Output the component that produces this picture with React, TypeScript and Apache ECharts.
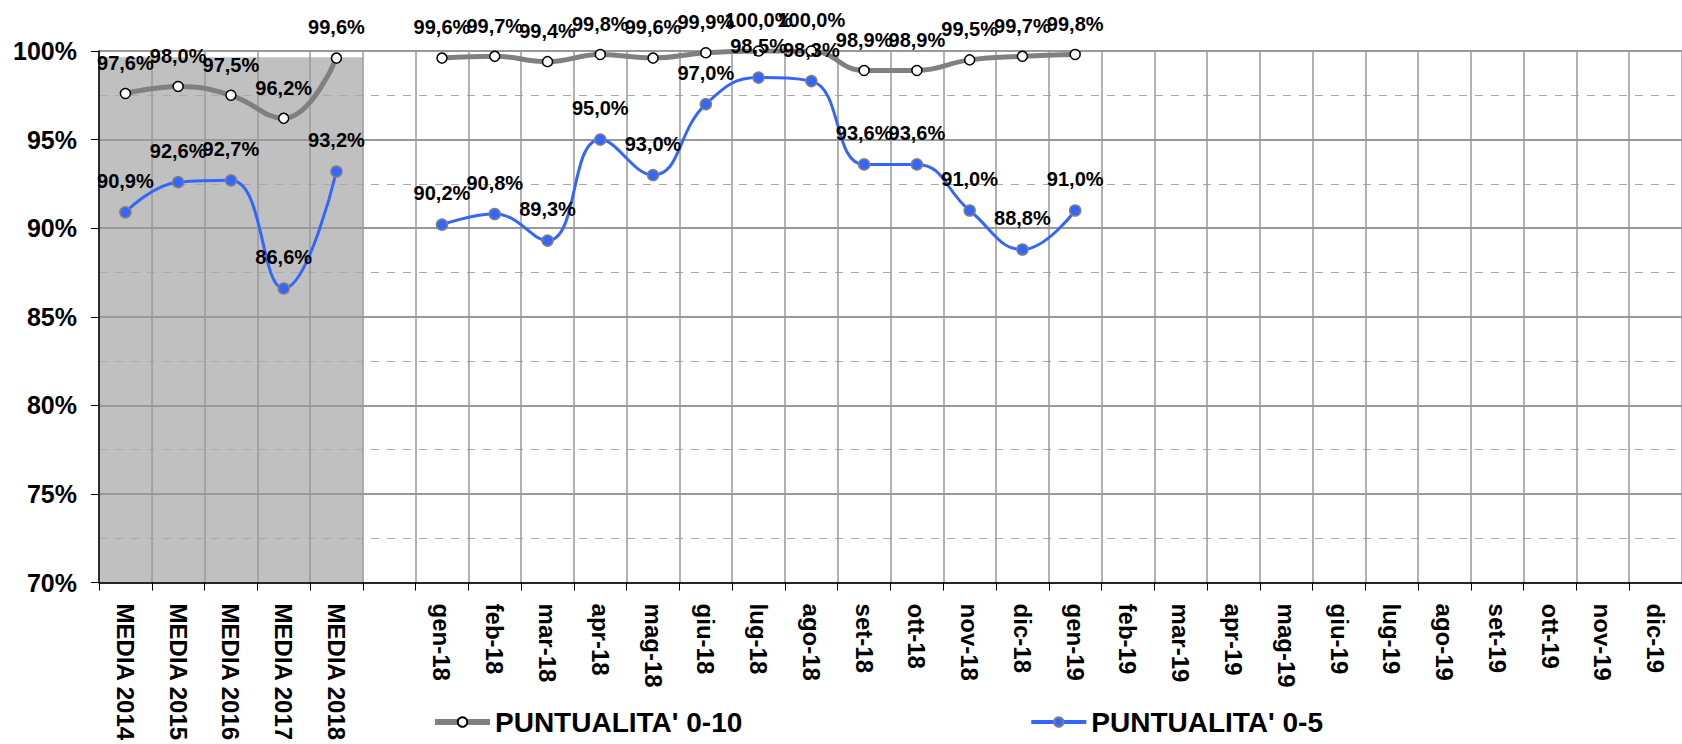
import React, { useEffect, useRef } from "react";
import * as echarts from "echarts";

const categories = [
  "MEDIA 2014", "MEDIA 2015", "MEDIA 2016", "MEDIA 2017", "MEDIA 2018", "",
  "gen-18", "feb-18", "mar-18", "apr-18", "mag-18", "giu-18", "lug-18", "ago-18", "set-18", "ott-18", "nov-18", "dic-18",
  "gen-19", "feb-19", "mar-19", "apr-19", "mag-19", "giu-19", "lug-19", "ago-19", "set-19", "ott-19", "nov-19", "dic-19",
];

const puntualita010 = [
  97.6, 98.0, 97.5, 96.2, 99.6, null,
  99.6, 99.7, 99.4, 99.8, 99.6, 99.9, 100.0, 100.0, 98.9, 98.9, 99.5, 99.7,
  99.8, null, null, null, null, null, null, null, null, null, null, null,
];

const puntualita05 = [
  90.9, 92.6, 92.7, 86.6, 93.2, null,
  90.2, 90.8, 89.3, 95.0, 93.0, 97.0, 98.5, 98.3, 93.6, 93.6, 91.0, 88.8,
  91.0, null, null, null, null, null, null, null, null, null, null, null,
];

const mediaShade = [99.65, 99.65, 99.65, 99.65, 99.65];

const seriesNames = ["PUNTUALITA' 0-10", "PUNTUALITA' 0-5"];

const FONT = "Liberation Sans, Arial, sans-serif";

const fmt = (v: number) => v.toFixed(1).replace(".", ",") + "%";

export default function App() {
  const ref = useRef<HTMLDivElement>(null);
  useEffect(() => {
    document.body.style.margin = "0";
    const chart = echarts.init(ref.current!, undefined, { renderer: "svg" });
    chart.setOption({
      animation: false,
      backgroundColor: "#ffffff",
      grid: { left: 99, right: -17, top: 51, bottom: 157, containLabel: false },
      legend: {
        data: [
          { name: seriesNames[0], lineStyle: { width: 6, color: "#808080" } },
          { name: seriesNames[1], lineStyle: { width: 4, color: "#3366ff" } },
        ],
        left: 427,
        top: 703,
        itemWidth: 55,
        itemHeight: 12,
        itemGap: 287,
        textStyle: { fontFamily: FONT, fontWeight: "bold", fontSize: 28, color: "#000" },
      },
      xAxis: {
        type: "category",
        data: categories,
        boundaryGap: true,
        z: 3,
        axisLine: { show: true, lineStyle: { color: "#000", width: 1.5 } },
        axisTick: { show: true, length: 8, alignWithLabel: false, interval: 0, lineStyle: { color: "#000" } },
        axisLabel: {
          interval: 0,
          rotate: -90,
          margin: 21,
          fontFamily: FONT,
          fontWeight: "bold",
          fontSize: 24,
          color: "#000",
        },
        splitLine: { show: true, interval: 0, lineStyle: { color: "#999", width: 1.5 } },
      },
      yAxis: {
        type: "value",
        min: 70,
        max: 100,
        interval: 5,
        z: 3,
        axisLine: { show: true, lineStyle: { color: "#000", width: 1.5 } },
        axisTick: { show: true, length: 8, lineStyle: { color: "#000" } },
        axisLabel: {
          formatter: (v: number) => v + "%",
          margin: 22,
          fontFamily: FONT,
          fontWeight: "bold",
          fontSize: 25,
          color: "#000",
        },
        splitLine: { show: true, lineStyle: { color: "#999", width: 2 } },
        minorTick: { show: false, splitNumber: 2 },
        minorSplitLine: { show: true, lineStyle: { color: "#aaa", width: 1, type: [8, 8] } },
      },
      series: [
        {
          name: "shade",
          type: "bar",
          data: mediaShade,
          barWidth: "100%",
          barCategoryGap: 0,
          itemStyle: { color: "#c0c0c0" },
          silent: true,
          z: 1,
        },
        {
          name: seriesNames[0],
          type: "line",
          data: puntualita010,
          smooth: 0.45,
          z: 5,
          lineStyle: { color: "#808080", width: 5 },
          itemStyle: { color: "#ffffff", borderColor: "#000", borderWidth: 1.5 },
          symbol: "circle",
          symbolSize: 10,
          showAllSymbol: true,
          label: {
            show: true,
            position: "top",
            distance: 15,
            formatter: (p: any) => fmt(p.value),
            fontFamily: FONT,
            fontWeight: "bold",
            fontSize: 20,
            color: "#000",
          },
        },
        {
          name: seriesNames[1],
          type: "line",
          data: puntualita05,
          smooth: 0.45,
          z: 6,
          lineStyle: { color: "#3366ff", width: 3 },
          itemStyle: { color: "#3366ff", borderColor: "#808080", borderWidth: 1.5 },
          symbol: "circle",
          symbolSize: 11,
          showAllSymbol: true,
          label: {
            show: true,
            position: "top",
            distance: 15,
            formatter: (p: any) => fmt(p.value),
            fontFamily: FONT,
            fontWeight: "bold",
            fontSize: 20,
            color: "#000",
          },
        },
      ],
    });
    return () => chart.dispose();
  }, []);
  return <div ref={ref} style={{ position: "fixed", left: 0, top: 0, width: 1682, height: 744 }} />;
}
